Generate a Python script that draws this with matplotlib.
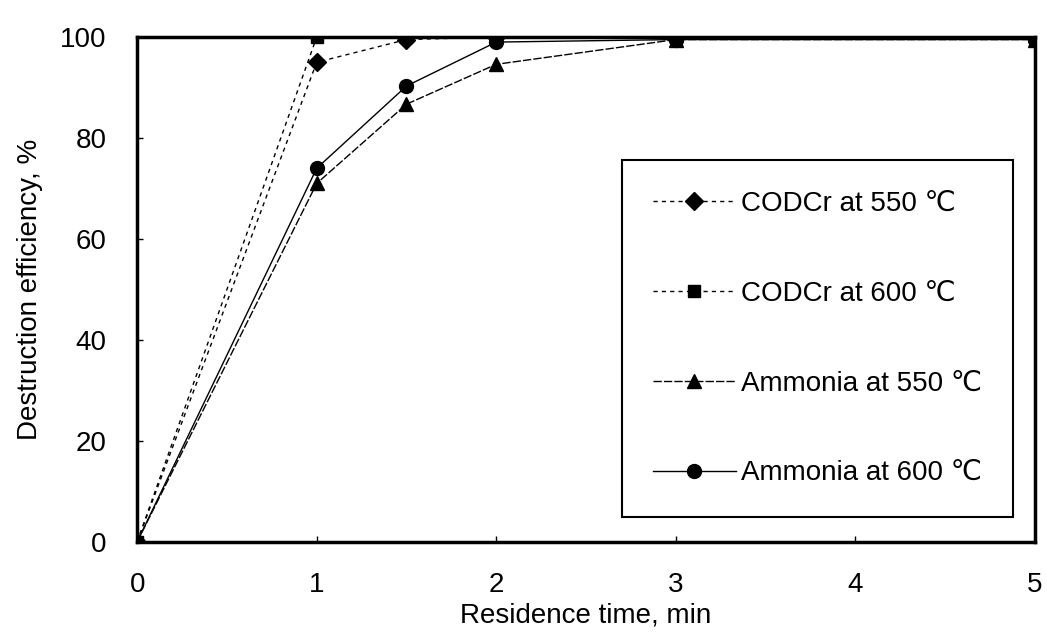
import matplotlib
matplotlib.use('Agg')
import matplotlib.pyplot as plt

plt.rcParams['font.family'] = ['Liberation Sans', 'DejaVu Sans']

# residence time, min
time = [0, 1, 1.5, 2, 3, 5]
# destruction efficiency, %
codcr_550 = [0, 95, 99.5, 100, 100, 100]
codcr_600 = [0, 100, 100, 100, 100, 100]
nh3_550 = [0, 71, 86.7, 94.6, 99.5, 99.5]
nh3_600 = [0, 74, 90.3, 99, 99.5, 99.5]

fig = plt.figure(figsize=(10.47, 6.33), dpi=100)
ax = fig.add_axes([0.131, 0.144, 0.8575, 0.7975])

ax.plot(time, codcr_550, color='black', linestyle=(0, (3, 3)), linewidth=1,
        marker='D', markersize=9, label='CODCr at 550 ℃')
ax.plot(time, codcr_600, color='black', linestyle=(0, (3, 3)), linewidth=1,
        marker='s', markersize=9, label='CODCr at 600 ℃')
ax.plot(time, nh3_550, color='black', linestyle=(0, (6, 1.5)), linewidth=1,
        marker='^', markersize=10, label='Ammonia at 550 ℃')
ax.plot(time, nh3_600, color='black', linestyle='-', linewidth=1,
        marker='o', markersize=10, label='Ammonia at 600 ℃')

ax.set_xlim(0, 5)
ax.set_ylim(0, 100)
ax.set_xticks([0, 1, 2, 3, 4, 5])
ax.set_yticks([0, 20, 40, 60, 80, 100])
ax.tick_params(axis='both', direction='in', length=4, width=1, labelsize=20, colors='black')
ax.tick_params(axis='y', pad=22)
ax.tick_params(axis='x', pad=22)
for s in ax.spines.values():
    s.set_linewidth(2.5)
ax.set_xlabel('Residence time, min', fontsize=20, labelpad=3)
ax.set_ylabel('Destruction efficiency, %', fontsize=20, labelpad=12)

leg = ax.legend(loc='lower right', bbox_to_anchor=(0.9755, 0.0495), fontsize=20,
                handlelength=3.0, handletextpad=0.2, labelspacing=2.3,
                borderpad=1.1, borderaxespad=0, fancybox=False, framealpha=1,
                edgecolor='black')
leg.get_frame().set_linewidth(1.5)

fig.savefig('out.png', dpi=100)
